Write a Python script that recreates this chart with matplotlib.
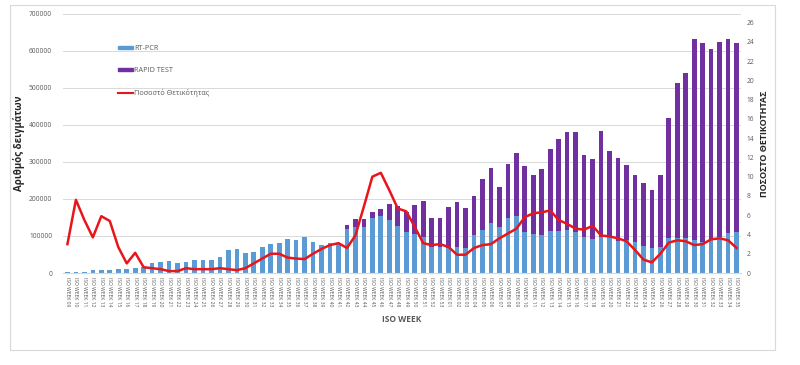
import matplotlib.pyplot as plt
from matplotlib.patches import Rectangle, Patch
from matplotlib.lines import Line2D
import numpy as np

plt.rcParams['font.family'] = ['Open Sans', 'DejaVu Sans']

# weeks: 2020 W09-W53, 2021 W01-W35
weeks = [f"ISO WEEK {w:02d}" for w in range(9, 54)] + [f"ISO WEEK {w:02d}" for w in range(1, 36)]

rtpcr = [1500, 2000, 4000, 8000, 9000, 9000, 10000, 11000, 14000, 16000,
         26000, 29000, 33000, 26000, 30000, 35000, 35000, 35000, 42000, 62000,
         64000, 53000, 56000, 69000, 79000, 80000, 91000, 88000, 97000, 85000,
         76000, 80000, 82000, 118000, 125000, 125000, 148000, 155000, 143000, 127000,
         112000, 105000, 98000, 71000, 71000,
         67000, 71000, 67000, 103000, 115000, 136000, 125000, 148000, 154000, 112000,
         105000, 103000, 114000, 114000, 116000, 112000, 96000, 91000, 98000, 98000,
         86000, 89000, 85000, 73000, 67000, 71000, 94000, 94000, 94000, 89000,
         85000, 89000, 98000, 107000, 112000]

rapid = [0, 0, 0, 0, 0, 0, 0, 0, 0, 0,
         0, 0, 0, 0, 0, 0, 0, 0, 0, 0,
         0, 0, 0, 0, 0, 0, 0, 0, 0, 0,
         0, 0, 0, 12000, 20000, 20000, 18000, 17000, 43000, 54000,
         54000, 80000, 97000, 78000, 78000,
         112000, 122000, 109000, 106000, 138000, 147000, 107000, 147000, 169000, 177000,
         160000, 177000, 220000, 247000, 264000, 268000, 223000, 216000, 285000, 232000,
         225000, 203000, 180000, 171000, 156000, 194000, 326000, 419000, 446000, 543000,
         537000, 516000, 526000, 525000, 509000]

positivity = [3.0, 7.6, 5.5, 3.7, 5.9, 5.4, 2.7, 1.0, 2.1, 0.6,
              0.5, 0.4, 0.2, 0.2, 0.5, 0.4, 0.4, 0.4, 0.5, 0.4,
              0.3, 0.5, 1.0, 1.5, 2.0, 2.0, 1.6, 1.5, 1.45, 2.0,
              2.5, 2.9, 3.1, 2.6, 3.9, 6.9, 10.0, 10.4, 8.6, 6.7,
              6.4, 4.8, 3.1, 2.9, 3.0,
              2.7, 1.9, 1.9, 2.6, 2.9, 3.0, 3.6, 4.1, 4.6, 5.8,
              6.2, 6.3, 6.5, 5.5, 5.1, 4.6, 4.5, 4.9, 3.9, 3.8,
              3.6, 3.3, 2.4, 1.4, 1.1, 2.0, 3.15, 3.4, 3.3, 2.9,
              3.0, 3.5, 3.6, 3.4, 2.6]

blue = '#5B9BD5'
purple = '#7030A0'
red = '#E8151B'
grey = '#595959'

x = np.arange(len(weeks))

fig = plt.figure(figsize=(8, 3.65), dpi=100)
ax = fig.add_axes([0.079, 0.252, 0.847, 0.710])
ax.bar(x, rtpcr, width=0.55, color=blue, zorder=2)
ax.bar(x, rapid, width=0.55, bottom=rtpcr, color=purple, zorder=2)

ax.set_ylim(0, 700000)
ax.set_xlim(-0.5, len(weeks) - 0.5)
ax.set_yticks(range(0, 700001, 100000))
ax.set_yticklabels([str(v) for v in range(0, 700001, 100000)])
ax.yaxis.grid(True, color='#D9D9D9', linewidth=0.7, zorder=0)
ax.set_axisbelow(True)
ax.set_xticks(x)
ax.set_xticklabels(weeks, rotation=-90, fontsize=3.6, color=grey)
ax.tick_params(axis='y', length=0, labelsize=4.8, labelcolor=grey, pad=8)
ax.tick_params(axis='x', length=0, pad=3)
for s in ['top', 'right', 'left']:
    ax.spines[s].set_visible(False)
ax.spines['bottom'].set_color('#D9D9D9')
ax.set_ylabel("Αριθμός δειγμάτων", fontsize=7, fontweight='bold', color='#262626', labelpad=3)
ax.set_xlabel("ISO WEEK", fontsize=6, fontweight='bold', color=grey, labelpad=6)

ax2 = ax.twinx()
ax2.plot(x, positivity, color=red, linewidth=1.8, zorder=3)
ax2.set_ylim(0, 26.9)
ax2.set_yticks(range(0, 27, 2))
ax2.tick_params(axis='y', length=0, labelsize=4.8, labelcolor=grey, pad=4)
for s in ['top', 'right', 'left', 'bottom']:
    ax2.spines[s].set_visible(False)
ax2.set_ylabel("ΠΟΣΟΣΤΟ ΘΕΤΙΚΟΤΗΤΑΣ", fontsize=6.5, fontweight='bold', color='#262626', labelpad=4)

handles = [Patch(color=blue), Patch(color=purple), Line2D([], [], color=red, linewidth=1.5)]
labels = ["RT-PCR", "RAPID TEST", "Ποσοστό Θετικότητας"]
leg = ax.legend(handles, labels, loc='upper left', bbox_to_anchor=(0.072, 0.905),
                frameon=False, fontsize=5.2, labelcolor=grey, labelspacing=2.1,
                handlelength=2.0, handleheight=0.4, handletextpad=0.2)
leg.set_zorder(5)

fig.patches.append(Rectangle((10 / 800, 15 / 365), 765 / 800, 345 / 365,
                             transform=fig.transFigure, fill=False,
                             edgecolor='#D9D9D9', linewidth=0.8))

fig.savefig('out.png', dpi=100)
